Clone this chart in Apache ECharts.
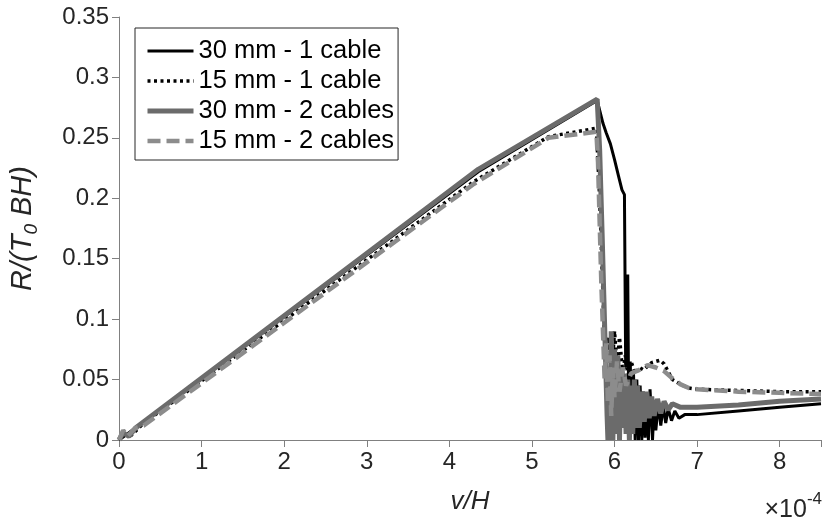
<!DOCTYPE html>
<html>
<head>
<meta charset="utf-8">
<script src="https://cdn.jsdelivr.net/npm/echarts@6/dist/echarts.min.js"></script>
<style>
  html, body { margin: 0; padding: 0; background: #fff; }
  #chart { width: 824px; height: 523px; }
</style>
</head>
<body>
<div id="chart"></div>
<script>
// x values in units of 1e-4 (axis shows "x10^-4")
var seriesNames = ['30 mm - 1 cable', '15 mm - 1 cable', '30 mm - 2 cables', '15 mm - 2 cables']
var xTicks = [0, 1, 2, 3, 4, 5, 6, 7, 8]
var yTicks = [0, 0.05, 0.1, 0.15, 0.2, 0.25, 0.3, 0.35]

var oneCable30 = [
  [0, 0], [0.1, 0.005], [4.35, 0.222], [5.79, 0.281], [5.86, 0.262], [5.9, 0.254],
  [5.95, 0.245], [6.0, 0.232], [6.05, 0.218], [6.09, 0.207], [6.12, 0.203],
  [6.135, 0.06], [6.16, 0.137], [6.17, 0.04], [6.19, 0.065], [6.21, 0.01], [6.23, 0.055],
  [6.25, 0.0], [6.27, 0.05], [6.29, 0.0], [6.31, 0.045], [6.33, 0.0], [6.35, 0.04],
  [6.37, 0.002], [6.39, 0.035], [6.41, 0.0], [6.43, 0.042], [6.46, 0.0], [6.48, 0.03],
  [6.5, 0.008], [6.53, 0.03], [6.56, 0.012], [6.59, 0.028], [6.62, 0.014], [6.65, 0.026],
  [6.69, 0.016], [6.73, 0.024], [6.78, 0.018], [6.85, 0.021], [7.0, 0.021], [7.5, 0.024],
  [8.0, 0.027], [8.5, 0.03]
]
var oneCable15 = [
  [0, 0], [0.05, 0.004], [0.15, 0.004], [0.3, 0.014], [4.3, 0.214], [5.2, 0.251],
  [5.78, 0.258], [5.82, 0.2], [5.86, 0.12], [5.88, 0.08], [5.9, 0.07], [5.93, 0.085],
  [5.96, 0.05], [6.0, 0.09], [6.03, 0.06], [6.06, 0.085], [6.1, 0.055], [6.13, 0.07],
  [6.17, 0.05], [6.2, 0.065], [6.25, 0.055], [6.3, 0.06], [6.35, 0.058], [6.45, 0.064],
  [6.55, 0.066], [6.6, 0.063], [6.7, 0.05], [6.8, 0.046], [6.9, 0.043], [7.0, 0.042],
  [7.5, 0.041], [8.0, 0.04], [8.5, 0.04]
]
var twoCables30 = [
  [0, 0], [0.05, 0.006], [0.12, 0.003], [0.2, 0.01], [4.35, 0.224], [5.79, 0.282],
  [5.82, 0.24], [5.85, 0.17], [5.87, 0.12], [5.89, 0.07], [5.91, 0.02], [5.92, 0.0],
  [5.93, 0.06], [5.95, 0.0], [5.96, 0.09], [5.98, 0.0], [6.0, 0.075], [6.02, 0.005],
  [6.04, 0.07], [6.06, 0.0], [6.08, 0.06], [6.1, 0.01], [6.12, 0.055], [6.14, 0.005],
  [6.16, 0.05], [6.18, 0.0], [6.2, 0.045], [6.22, 0.005], [6.24, 0.05], [6.26, 0.01],
  [6.28, 0.045], [6.3, 0.01], [6.33, 0.04], [6.36, 0.015], [6.39, 0.04], [6.42, 0.018],
  [6.45, 0.036], [6.48, 0.02], [6.52, 0.034], [6.56, 0.022], [6.6, 0.032], [6.65, 0.025],
  [6.7, 0.03], [6.8, 0.027], [7.0, 0.027], [7.5, 0.029], [8.0, 0.032], [8.5, 0.034]
]
var twoCables15 = [
  [0, 0], [0.05, 0.008], [0.1, 0.003], [0.2, 0.01], [0.3, 0.012], [4.3, 0.212],
  [5.2, 0.25], [5.78, 0.255], [5.8, 0.23], [5.82, 0.18], [5.84, 0.13], [5.86, 0.09],
  [5.88, 0.05], [5.9, 0.08], [5.92, 0.03], [5.94, 0.07], [5.96, 0.02], [5.98, 0.06],
  [6.0, 0.035], [6.03, 0.065], [6.06, 0.04], [6.1, 0.06], [6.14, 0.045], [6.2, 0.055],
  [6.3, 0.058], [6.4, 0.062], [6.5, 0.06], [6.6, 0.057], [6.7, 0.051], [6.8, 0.046],
  [6.9, 0.043], [7.0, 0.042], [7.5, 0.04], [8.0, 0.039], [8.5, 0.038]
]

var font = 'Liberation Sans, Arial, Helvetica, sans-serif'
var txt = '#262626'
var axisGray = '#808080'

var styles = [
  { color: '#000', width: 3, type: 'solid' },
  { color: '#000', width: 3.5, type: [3, 3.5] },
  { color: '#6b6b6b', width: 5, type: 'solid' },
  { color: '#8c8c8c', width: 4.5, type: [13, 6] }
]
var seriesData = [oneCable30, oneCable15, twoCables30, twoCables15]

var chart = echarts.init(document.getElementById('chart'))
chart.setOption({
  animation: false,
  textStyle: { fontFamily: font },
  grid: { left: 119, right: 2, top: 17, bottom: 83 },
  legend: {
    data: seriesNames.map(function (n, i) {
      return { name: n, lineStyle: { width: styles[i].width, type: styles[i].type, color: styles[i].color } }
    }),
    orient: 'vertical',
    left: 135,
    top: 28,
    itemWidth: 46,
    itemHeight: 14,
    itemGap: 4,
    padding: [10, 4, 6, 10],
    borderColor: txt,
    borderWidth: 1,
    backgroundColor: '#fff',
    itemStyle: { opacity: 0 },
    textStyle: { fontSize: 25.5, color: '#000', fontFamily: font }
  },
  xAxis: {
    type: 'value',
    min: 0,
    max: 8.5,
    interval: 1,
    name: 'v/H',
    nameLocation: 'middle',
    nameGap: 49,
    nameTextStyle: { fontSize: 26, fontStyle: 'italic', color: txt, fontFamily: font },
    splitLine: { show: false },
    axisLine: { lineStyle: { color: axisGray, width: 1 } },
    axisTick: { length: 7, lineStyle: { color: axisGray } },
    axisLabel: {
      fontSize: 24, color: txt, margin: 10,
      formatter: function (v) { return xTicks.indexOf(v) >= 0 ? String(v) : '' }
    }
  },
  yAxis: {
    type: 'value',
    min: 0,
    max: 0.35,
    interval: 0.05,
    name: '{a|R/(T}{s|0}{a| BH)}',
    nameLocation: 'middle',
    nameRotate: 90,
    nameGap: 78,
    nameTextStyle: {
      color: txt,
      rich: {
        a: { fontSize: 29, fontStyle: 'italic', fontFamily: font, color: txt, lineHeight: 36, verticalAlign: 'middle' },
        s: { fontSize: 19, fontStyle: 'italic', fontFamily: font, color: txt, lineHeight: 36, verticalAlign: 'bottom' }
      }
    },
    splitLine: { show: false },
    axisLine: { show: true, lineStyle: { color: axisGray, width: 1 } },
    axisTick: { show: true, length: 7, lineStyle: { color: axisGray } },
    axisLabel: {
      fontSize: 24, color: txt, margin: 10,
      formatter: function (v) {
        for (var i = 0; i < yTicks.length; i++) {
          if (Math.abs(yTicks[i] - v) < 1e-9) return String(yTicks[i])
        }
        return ''
      }
    }
  },
  graphic: [{
    type: 'text',
    right: 2,
    top: 491,
    style: {
      text: '{a|\u00d710}{s|-4}',
      rich: {
        a: { fontSize: 25, fontFamily: font, fill: txt, lineHeight: 32, verticalAlign: 'bottom' },
        s: { fontSize: 17, fontFamily: font, fill: txt, lineHeight: 32, verticalAlign: 'top' }
      }
    }
  }],
  series: seriesNames.map(function (n, i) {
    return {
      name: n,
      type: 'line',
      data: seriesData[i],
      symbol: 'none',
      color: styles[i].color,
      lineStyle: { color: styles[i].color, width: styles[i].width, type: styles[i].type }
    }
  })
})
</script>
</body>
</html>
